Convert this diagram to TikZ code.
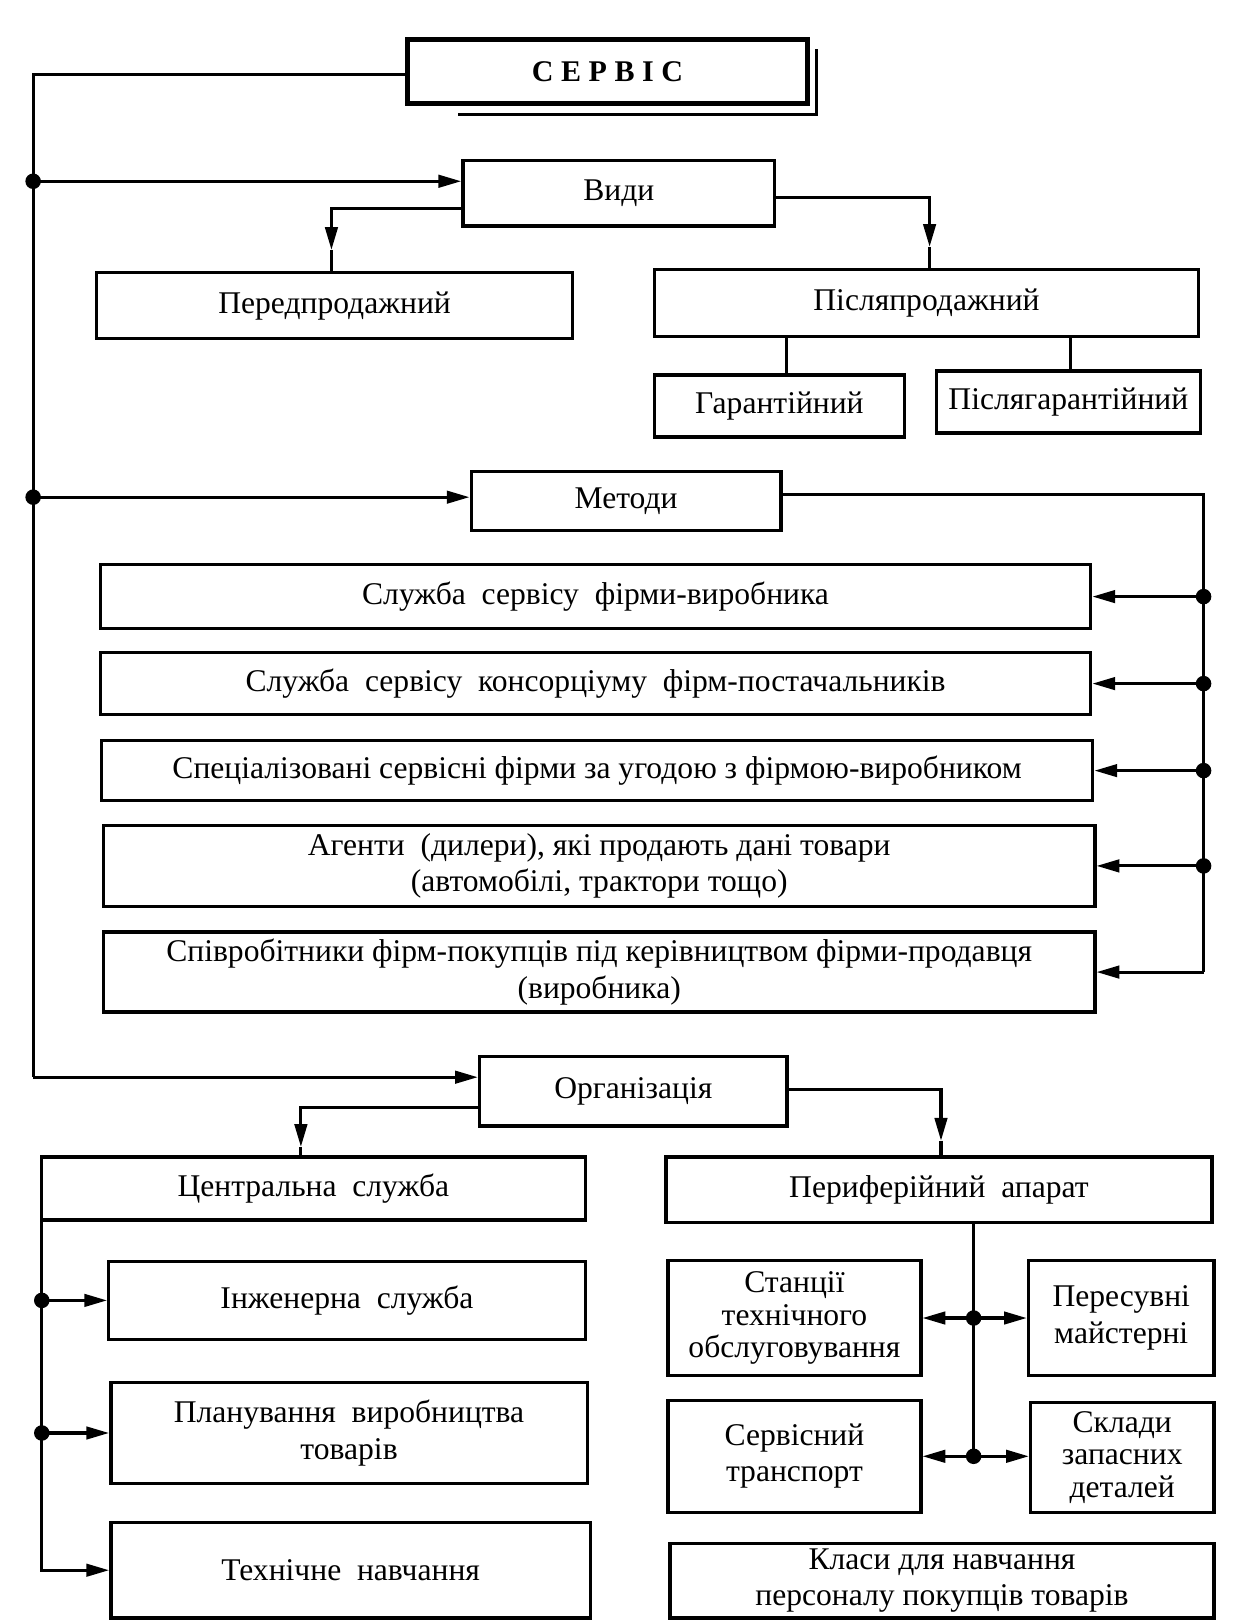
\documentclass[tikz,border=0pt]{standalone}
\usepackage{fontspec}
\setmainfont{Liberation Serif}
\usetikzlibrary{arrows.meta}
\begin{document}
\begin{tikzpicture}[x=1pt,y=-1pt,
  box/.style={draw,line width=3.3pt,inner sep=2pt,align=center,font=\fontsize{30.5}{35}\selectfont},
  tight/.style={font=\fontsize{30.5}{31.5}\selectfont},
  conn/.style={line width=3pt},
  arr/.style={conn,-{Triangle[length=22pt,width=12pt]}},
  dotj/.style={circle,fill,inner sep=0pt,minimum size=15pt}]
\useasboundingbox (0,0) rectangle (1200,1566);
% nodes
\node[box,line width=4.8pt,minimum width=387pt,minimum height=62pt,font=\fontsize{29}{32}\selectfont\bfseries] (serv) at (586.5,69) {С\hspace{0.25em}Е\hspace{0.25em}Р\hspace{0.25em}В\hspace{0.25em}І\hspace{0.25em}С};
\node[box,minimum width=301pt,minimum height=63pt] (vidy) at (597.5,186.5) {Види};
\node[box,minimum width=460pt,minimum height=64pt] (pered) at (323,295) {Передпродажний};
\node[box,minimum width=525pt,minimum height=65pt] (pislya) at (894.5,292.5) {Післяпродажний};
\node[box,minimum width=241pt,minimum height=60pt] (garant) at (752.5,392) {Гарантійний};
\node[box,minimum width=255pt,minimum height=60pt] (pislyag) at (1031.5,388) {Післягарантійний};
\node[box,minimum width=299pt,minimum height=57pt] (metody) at (604.5,483.5) {Методи};
\node[box,minimum width=956pt,minimum height=62pt] (m1) at (575,576) {Служба\ \ сервісу\ \ фірми-виробника};
\node[box,minimum width=956pt,minimum height=60pt] (m2) at (575,660) {Служба\ \ сервісу\ \ консорціуму\ \ фірм-постачальників};
\node[box,minimum width=957pt,minimum height=58pt] (m3) at (576.5,744) {Спеціалізовані сервісні фірми за угодою з фірмою-виробником};
\node[box,minimum width=957pt,minimum height=78pt] (m4) at (578.5,836) {Агенти\ \ (дилери), які продають дані товари\\(автомобілі, трактори тощо)};
\node[box,minimum width=957pt,minimum height=77pt] (m5) at (578.5,938.5) {Співробітники фірм-покупців під керівництвом фірми-продавця\\(виробника)};
\node[box,minimum width=297pt,minimum height=67pt] (org) at (611.5,1053.5) {Організація};
\node[box,minimum width=525pt,minimum height=61pt] (central) at (302.5,1147.5) {Центральна\ \ служба};
\node[box,minimum width=527pt,minimum height=63pt] (perif) at (906.5,1148.5) {Периферійний\ \ апарат};
\node[box,minimum width=460pt,minimum height=75pt] (inzh) at (335,1255.5) {Інженерна\ \ служба};
\node[box,minimum width=460pt,minimum height=97pt] (plan) at (337,1383.5) {Планування\ \ виробництва\\товарів};
\node[box,minimum width=463pt,minimum height=92pt] (tekh) at (338.5,1516) {Технічне\ \ навчання};
\node[box,tight,minimum width=244pt,minimum height=111pt] (stan) at (767,1272.5) {Станції\\технічного\\обслуговування};
\node[box,minimum width=179pt,minimum height=111pt] (peres) at (1082.5,1272.5) {Пересувні\\майстерні};
\node[box,minimum width=244pt,minimum height=108pt] (servt) at (767,1406) {Сервісний\\транспорт};
\node[box,tight,minimum width=177pt,minimum height=106pt] (sklad) at (1083.5,1407) {Склади\\запасних\\деталей};
\node[box,minimum width=525pt,minimum height=72pt] (klasy) at (909.5,1526) {Класи для навчання\\персоналу покупців товарів};
% shadow of the title box
\draw[conn] ([xshift=52pt,yshift=-8pt]serv.south west) -- ([xshift=6pt,yshift=-8pt]serv.south east) -- ([xshift=6pt,yshift=-12pt]serv.north east);
% trunk
\coordinate (tTop) at (32,72);
\coordinate (jV) at (32,175);
\coordinate (jM) at (32,480);
\coordinate (jO) at (32,1040);
\draw[conn] (serv.west |- tTop) -- (tTop) -- (jO);
\draw[arr] (jV) -- (vidy.west |- jV);
\draw[arr] (jM) -- (metody.west |- jM);
\draw[arr] (jO) -- (org.west |- jO);
\node[dotj] at (jV) {};
\node[dotj] at (jM) {};
% Види branches
\coordinate (aP) at ([xshift=-3pt,yshift=20pt]pered.north);
\draw[arr] ([yshift=18pt]vidy.south west) -| (aP);
\draw[conn] (aP) -- (aP |- pered.north);
\coordinate (aR) at ([xshift=3pt,yshift=20pt]pislya.north);
\draw[arr] ([yshift=-4pt]vidy.east) -| (aR);
\draw[conn] (aR) -- (aR |- pislya.north);
\draw[conn] ([xshift=7pt]garant.north) -- ([xshift=7pt]garant.north |- pislya.south);
\draw[conn] ([xshift=2pt]pislyag.north) -- ([xshift=2pt]pislyag.north |- pislya.south);
% Методи branches
\coordinate (mx) at (1162,477);
\draw[conn] (metody.east |- mx) -- (mx) -- (mx |- m5.east);
\foreach \m in {m1,m2,m3,m4}{
  \draw[arr] (mx |- \m.east) -- (\m.east);
  \node[dotj] at (mx |- \m.east) {};
}
\draw[arr] (mx |- m5.east) -- (m5.east);
% Організація branches
\coordinate (aC) at ([xshift=-12pt,yshift=8pt]central.north);
\draw[arr] ([yshift=-16pt]org.west) -| (aC);
\draw[conn] (aC) -- (aC |- central.north);
\coordinate (aF) at ([xshift=2pt,yshift=14pt]perif.north);
\draw[arr] ([yshift=2pt]org.east) -| (aF);
\draw[conn] (aF) -- (aF |- perif.north);
% central service
\coordinate (cv) at ([xshift=2pt]central.south west);
\draw[arr] (cv) |- (tekh.west);
\draw[arr] (cv |- inzh.west) -- (inzh.west);
\draw[arr] (cv |- plan.west) -- (plan.west);
\node[dotj] at (cv |- inzh.west) {};
\node[dotj] at (cv |- plan.west) {};
% peripheral
\coordinate (pv) at ([xshift=33.5pt]perif.south);
\coordinate (d1) at (pv |- stan.east);
\coordinate (d2) at (pv |- servt.east);
\draw[conn] (pv) -- (d2);
\draw[arr] (d1) -- (stan.east);
\draw[arr] (d1) -- (peres.west);
\draw[arr] (d2) -- (servt.east);
\draw[arr] (d2) -- (servt.east -| sklad.west);
\node[dotj] at (d1) {};
\node[dotj] at (d2) {};
\end{tikzpicture}
\end{document}
